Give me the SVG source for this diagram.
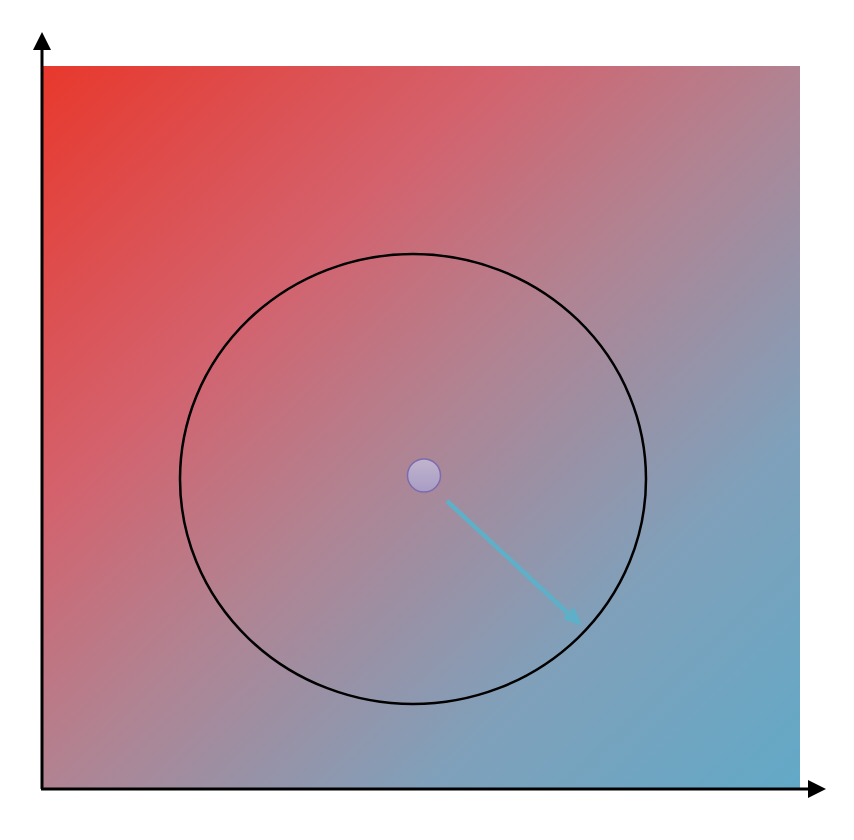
<svg xmlns="http://www.w3.org/2000/svg" width="854" height="840" viewBox="0 0 854 840">
<defs>
<linearGradient id="bg" x1="0" y1="0" x2="1" y2="1">
<stop offset="0" stop-color="#E8382C"/>
<stop offset="0.3" stop-color="#D4616C"/>
<stop offset="0.5" stop-color="#B18392"/>
<stop offset="0.75" stop-color="#80A0BA"/>
<stop offset="1" stop-color="#62A9C7"/>
</linearGradient>
<linearGradient id="dot" x1="0" y1="0" x2="0" y2="1">
<stop offset="0" stop-color="#C0B4CE"/>
<stop offset="1" stop-color="#A89CC4"/>
</linearGradient>
<style>
.axis{stroke:#000;stroke-width:3;fill:none}
</style>
</defs>
<rect x="42" y="66" width="758" height="723" fill="url(#bg)"/>
<g id="axes">
<line class="axis" x1="42" y1="789" x2="42" y2="48"/>
<path d="M33,50 L42,32 L51,50 Z" fill="#000"/>
<line class="axis" x1="41" y1="789" x2="810" y2="789"/>
<path d="M808,780 L826,789 L808,798 Z" fill="#000"/>
</g>
<g id="circle">
<ellipse cx="413" cy="479" rx="233" ry="225" fill="none" stroke="#000" stroke-width="2.5"/>
</g>
<g id="center">
<circle cx="424" cy="475.5" r="16.5" fill="url(#dot)" stroke="#7D6BAE" stroke-width="1.5"/>
</g>
<g id="connectors">
<line x1="447" y1="501" x2="573" y2="618" stroke="#5EB0C8" stroke-width="4.5"/>
<path d="M582,626 L563,619 L574,607 Z" fill="#5EB0C8"/>
</g>
</svg>
